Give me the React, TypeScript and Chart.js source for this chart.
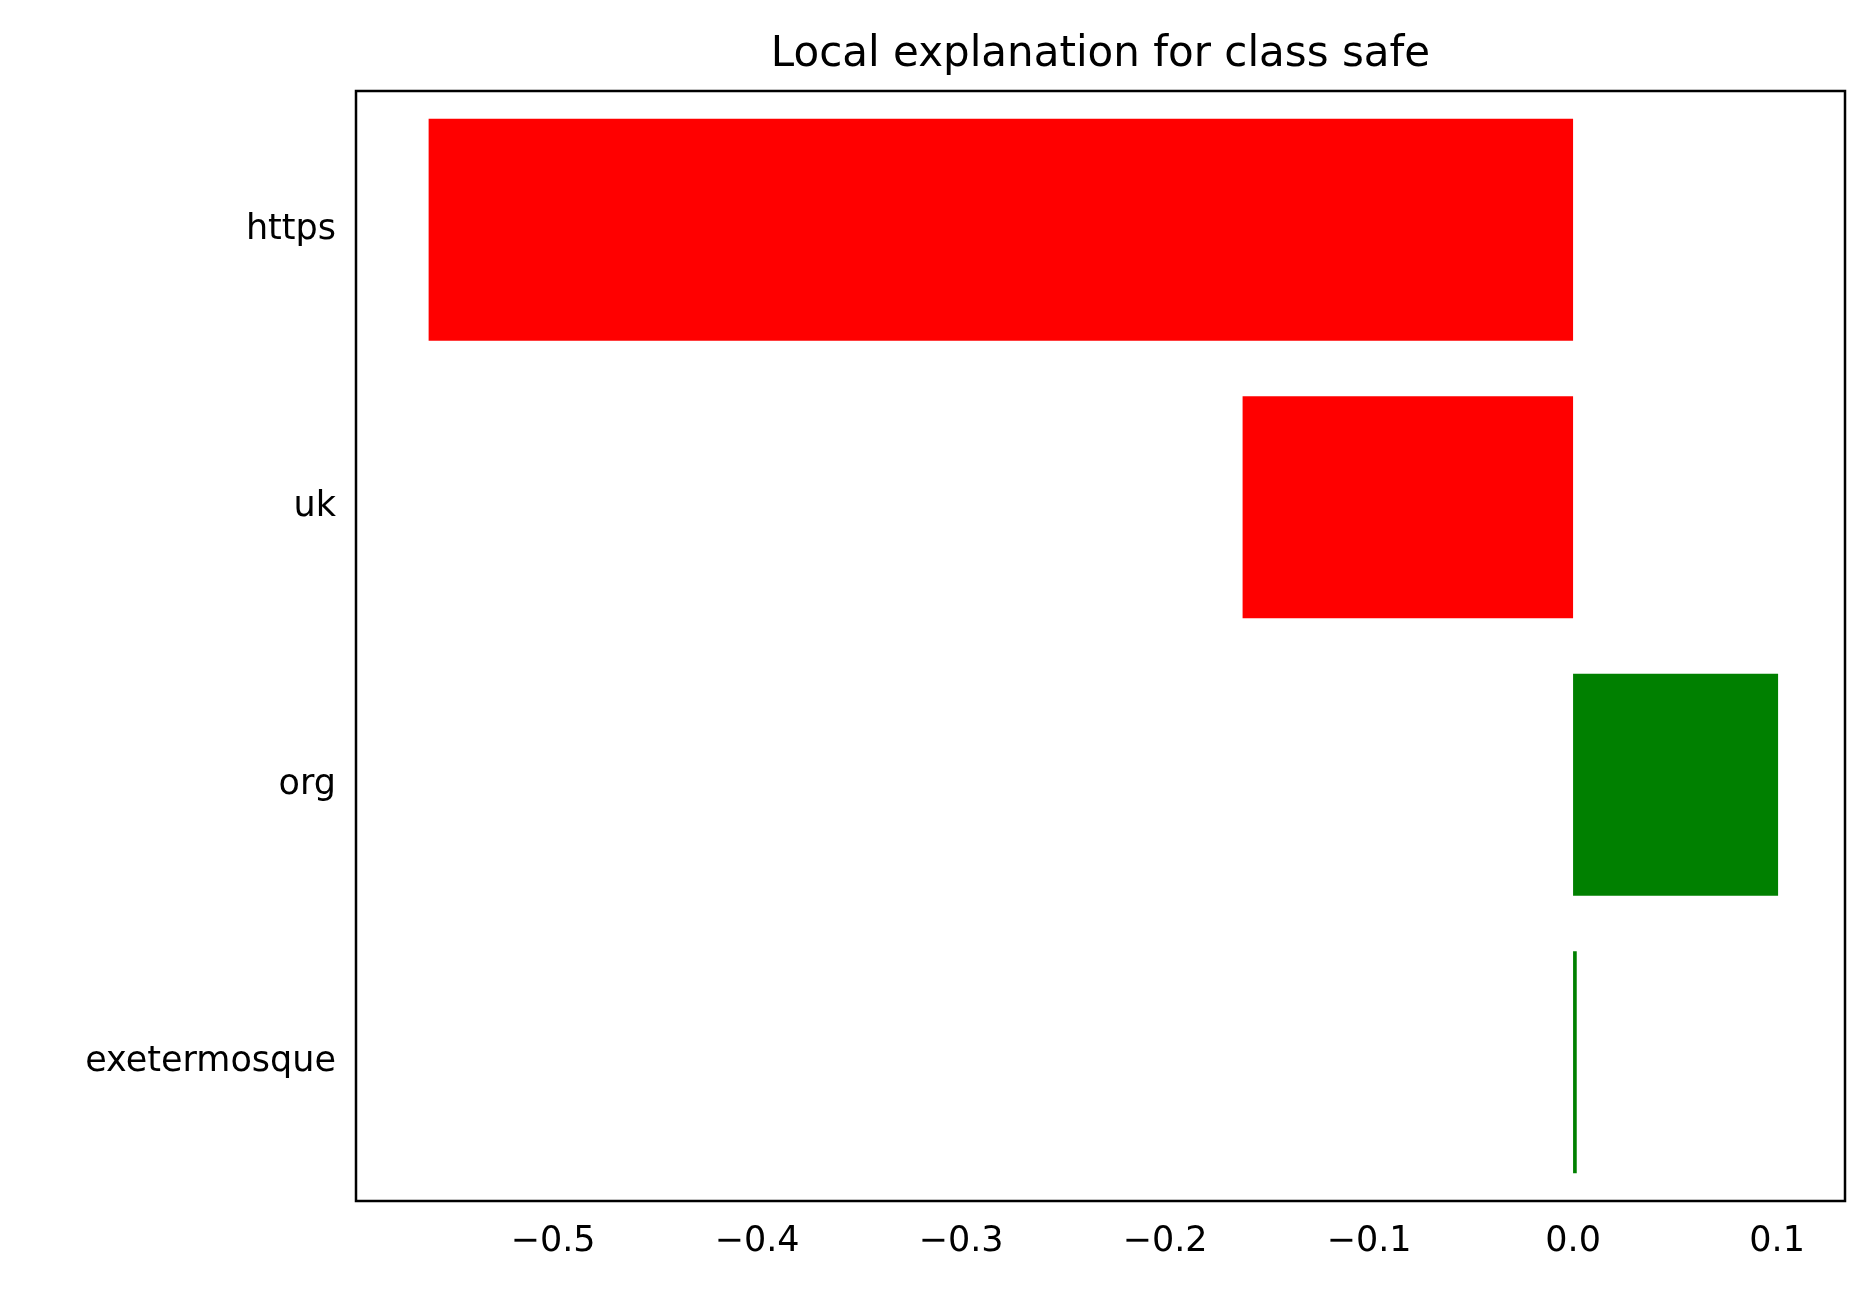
import { useEffect, useRef } from 'react';
import { Chart, registerables } from 'chart.js';

Chart.register(...registerables);

const features = ['https', 'uk', 'org', 'exetermosque'];
const weights = [-0.561, -0.162, 0.1005, 0.0018];
const xTicks = [-0.5, -0.4, -0.3, -0.2, -0.1, 0.0, 0.1];

const titlePlugin = {
  id: 'mplTitle',
  afterDraw(chart: Chart) {
    const { ctx, chartArea } = chart;
    ctx.save();
    ctx.fillStyle = '#000';
    ctx.font = '42px "DejaVu Sans"';
    ctx.textAlign = 'center';
    ctx.textBaseline = 'alphabetic';
    ctx.fillText('Local explanation for class safe', (chartArea.left + chartArea.right) / 2, 66);
    ctx.strokeStyle = '#000';
    ctx.lineWidth = 2.5;
    ctx.strokeRect(chartArea.left, chartArea.top, chartArea.right - chartArea.left, chartArea.bottom - chartArea.top);
    ctx.restore();
  },
};

export default function App() {
  const ref = useRef<HTMLCanvasElement>(null);

  useEffect(() => {
    if (!ref.current) return;
    document.body.style.margin = '0';
    const chart = new Chart(ref.current, {
      type: 'bar',
      data: {
        labels: features,
        datasets: [{
          data: weights,
          backgroundColor: weights.map((w) => (w < 0 ? '#ff0000' : '#008000')),
          barPercentage: 0.8,
          categoryPercentage: 1,
        }],
      },
      options: {
        indexAxis: 'y',
        animation: false,
        responsive: false,
        devicePixelRatio: 1,
        layout: { padding: { top: 91, right: 30, left: 0, bottom: 0 } },
        plugins: { legend: { display: false }, tooltip: { enabled: false } },
        scales: {
          x: {
            min: -0.5966,
            max: 0.1333,
            afterFit: (s: any) => { s.height = 101; },
            afterBuildTicks: (s: any) => { s.ticks = xTicks.map((v) => ({ value: v })); },
            grid: { display: false, drawTicks: true, tickLength: 12, tickColor: '#000', tickWidth: 2.5 },
            border: { display: false },
            ticks: {
              color: '#000',
              font: { family: 'DejaVu Sans', size: 35 },
              padding: 8,
              maxRotation: 0,
              callback: (v: any) => {
                const n = Number(v);
                return (n < 0 ? '\u2212' : '') + Math.abs(n).toFixed(1);
              },
            },
          },
          y: {
            afterFit: (s: any) => { s.width = 356; },
            grid: { display: false, drawTicks: true, tickLength: 12, tickColor: '#000', tickWidth: 2.5 },
            border: { display: false },
            ticks: { color: '#000', font: { family: 'DejaVu Sans', size: 35 }, padding: 8 },
          },
        },
      },
      plugins: [titlePlugin],
    });
    return () => chart.destroy();
  }, []);

  return <canvas ref={ref} width={1875} height={1302} style={{ display: 'block' }} />;
}
